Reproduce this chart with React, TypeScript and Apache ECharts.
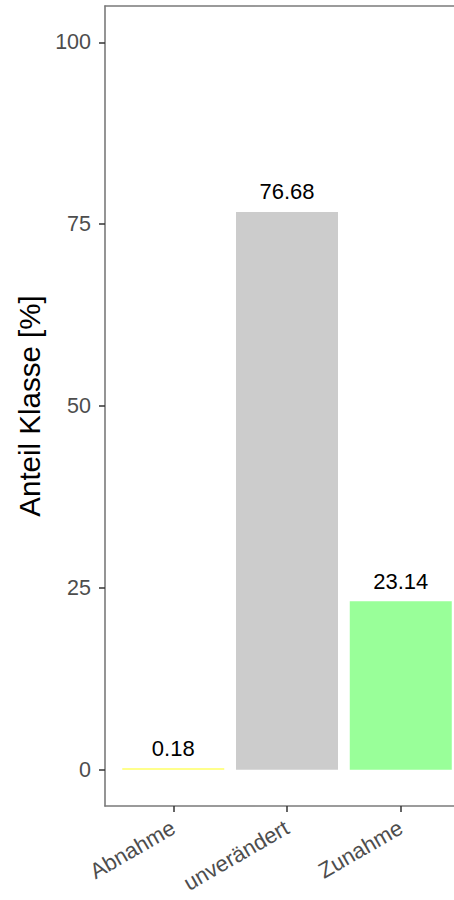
import React, { useEffect, useRef } from "react";
import * as echarts from "echarts";

const categories = ["Abnahme", "unverändert", "Zunahme"];
const values = [0.18, 76.68, 23.14];
const barColors = ["#FFFF66", "#CCCCCC", "#99FF99"];
const yTicks = [0, 25, 50, 75, 100];
const yTitle = "Anteil Klasse [%]";

const FONT = "Liberation Sans, Arial, sans-serif";

export default function App() {
  const ref = useRef<HTMLDivElement>(null);
  useEffect(() => {
    if (!ref.current) return;
    const chart = echarts.init(ref.current, null, { renderer: "svg" });
    const xPositions = categories.map((_, i) => i + 1);
    const axisLineStyle = { color: "#7a7a7a", width: 1.6 };
    chart.setOption({
      animation: false,
      backgroundColor: "#ffffff",
      textStyle: { fontFamily: FONT },
      grid: { left: 105, right: 0, top: 6, bottom: 94 },
      xAxis: [
        {
          type: "value",
          min: 0.4,
          max: 3.468,
          position: "bottom",
          axisLine: { show: true, onZero: false, lineStyle: axisLineStyle },
          axisTick: {
            show: true,
            length: 6,
            customValues: xPositions,
            lineStyle: { color: "#333333", width: 1.5 },
          },
          axisLabel: {
            customValues: xPositions,
            rotate: 30,
            margin: 20,
            fontSize: 22,
            color: "#4D4D4D",
            fontFamily: FONT,
            formatter: (v: number) => categories[Math.round(v) - 1] ?? "",
          },
          splitLine: { show: false },
        },
        {
          type: "value",
          min: 0.4,
          max: 3.468,
          position: "top",
          axisLine: { show: true, onZero: false, lineStyle: axisLineStyle },
          axisTick: { show: false },
          axisLabel: { show: false },
          splitLine: { show: false },
        },
      ],
      yAxis: {
        type: "value",
        min: -5,
        max: 105,
        name: yTitle,
        nameLocation: "middle",
        nameGap: 55,
        nameTextStyle: { fontSize: 29.5, color: "#000000", fontFamily: FONT },
        axisLine: { show: true, onZero: false, lineStyle: axisLineStyle },
        axisTick: {
          show: true,
          length: 6,
          customValues: yTicks,
          lineStyle: { color: "#333333", width: 1.5 },
        },
        axisLabel: {
          customValues: yTicks,
          fontSize: 21.5,
          color: "#4D4D4D",
          margin: 14,
          fontFamily: FONT,
        },
        splitLine: { show: false },
      },
      series: [
        {
          type: "bar",
          xAxisIndex: 0,
          barWidth: 102,
          data: values.map((v, i) => ({
            value: [i + 1, v],
            itemStyle: { color: barColors[i] },
          })),
          label: {
            show: true,
            position: "top",
            distance: 9,
            fontSize: 22,
            color: "#000000",
            fontFamily: FONT,
            formatter: (p: any) => p.value[1].toFixed(2),
          },
        },
      ],
    });
    return () => chart.dispose();
  }, []);
  return (
    <div
      ref={ref}
      style={{ position: "fixed", left: 0, top: 0, width: 454, height: 900 }}
    />
  );
}
